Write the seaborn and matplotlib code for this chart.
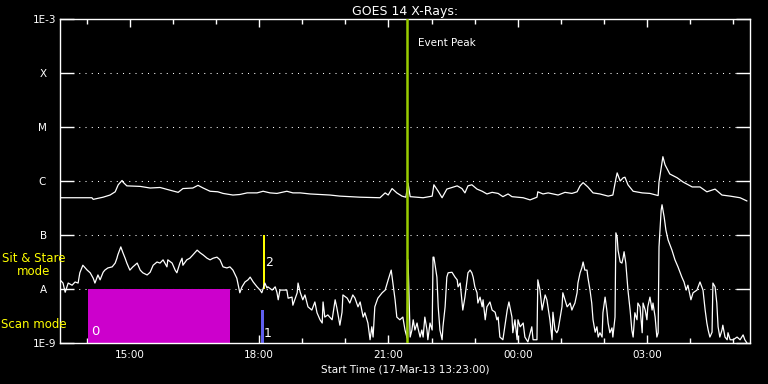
import numpy as np
import pandas as pd
import seaborn as sns
import matplotlib.pyplot as plt
import matplotlib.dates as mdates

# GOES 14 X-ray flux (hours after start, log10 W/m^2)
start = pd.Timestamp("2013-03-17 13:23:00")
span_hours = 16

long_hours = [0.00, 0.74, 0.77, 1.00, 1.16, 1.28, 1.35, 1.44, 1.46, 1.55, 1.86, 2.09, 2.32, 2.55,
              2.74, 2.85, 3.08, 3.20, 3.32, 3.48, 3.66, 3.78, 4.01, 4.17, 4.34, 4.57, 4.71, 4.87,
              5.03, 5.26, 5.40, 5.57, 5.80, 6.26, 6.49, 6.96, 7.42, 7.54, 7.61, 7.70, 7.81, 7.93,
              8.02, 8.07, 8.12, 8.42, 8.63, 8.67, 8.77, 8.86, 8.97, 9.09, 9.21, 9.32, 9.39, 9.46,
              9.55, 9.67, 9.79, 9.90, 10.02, 10.16, 10.27, 10.39, 10.48, 10.74, 10.90, 11.06,
              11.08, 11.20, 11.32, 11.55, 11.71, 11.87, 11.99, 12.06, 12.13, 12.24, 12.36, 12.52,
              12.71, 12.82, 12.89, 12.92, 12.99, 13.06, 13.10, 13.17, 13.29, 13.50, 13.68, 13.87,
              13.89, 13.98, 14.03, 14.14, 14.31, 14.45, 14.66, 14.84, 15.00, 15.19, 15.35, 15.54,
              15.77, 15.93]
long_logflux = [-6.31, -6.31, -6.34, -6.30, -6.26, -6.20, -6.07, -5.99, -6.02, -6.09, -6.10, -6.13,
                -6.12, -6.17, -6.21, -6.14, -6.13, -6.08, -6.13, -6.19, -6.20, -6.23, -6.26, -6.25,
                -6.22, -6.22, -6.19, -6.22, -6.23, -6.19, -6.22, -6.22, -6.24, -6.26, -6.28, -6.30,
                -6.31, -6.22, -6.26, -6.14, -6.22, -6.28, -6.30, -6.04, -6.29, -6.31, -6.28, -6.07,
                -6.19, -6.31, -6.15, -6.12, -6.09, -6.14, -6.22, -6.09, -6.07, -6.15, -6.19, -6.24,
                -6.21, -6.23, -6.29, -6.24, -6.29, -6.31, -6.35, -6.30, -6.20, -6.24, -6.22, -6.26,
                -6.21, -6.23, -6.20, -6.09, -6.03, -6.11, -6.22, -6.24, -6.28, -6.26, -5.96, -5.85,
                -6.00, -5.94, -5.93, -6.07, -6.19, -6.22, -6.23, -6.27, -6.02, -5.55, -5.70, -5.87,
                -5.94, -6.02, -6.11, -6.11, -6.20, -6.15, -6.26, -6.28, -6.31, -6.37]

short_hours = [0.00, 0.07, 0.12, 0.19, 0.28, 0.35, 0.42, 0.46, 0.53, 0.63, 0.70, 0.77, 0.81, 0.88,
               0.93, 1.00, 1.04, 1.11, 1.21, 1.28, 1.32, 1.34, 1.41, 1.46, 1.51, 1.55, 1.62, 1.69,
               1.79, 1.86, 1.92, 2.02, 2.09, 2.16, 2.25, 2.32, 2.39, 2.48, 2.50, 2.60, 2.67, 2.71,
               2.78, 2.83, 2.85, 2.94, 3.01, 3.08, 3.18, 3.25, 3.32, 3.41, 3.48, 3.55, 3.64, 3.71,
               3.78, 3.87, 3.94, 4.01, 4.10, 4.17, 4.22, 4.29, 4.36, 4.41, 4.48, 4.57, 4.64, 4.68,
               4.75, 4.80, 4.82, 4.92, 4.99, 5.03, 5.06, 5.10, 5.17, 5.26, 5.29, 5.38, 5.40, 5.50,
               5.52, 5.57, 5.63, 5.68, 5.75, 5.84, 5.91, 5.96, 6.03, 6.08, 6.10, 6.14, 6.21, 6.31,
               6.38, 6.42, 6.49, 6.54, 6.56, 6.66, 6.72, 6.79, 6.84, 6.91, 6.96, 7.03, 7.07, 7.14,
               7.19, 7.23, 7.26, 7.30, 7.37, 7.47, 7.54, 7.61, 7.68, 7.72, 7.77, 7.81, 7.88, 7.95,
               8.00, 8.05, 8.07, 8.12, 8.16, 8.19, 8.23, 8.28, 8.30, 8.35, 8.39, 8.42, 8.46, 8.51,
               8.53, 8.58, 8.63, 8.65, 8.67, 8.74, 8.77, 8.81, 8.86, 8.88, 8.93, 8.97, 9.00, 9.09,
               9.16, 9.21, 9.23, 9.28, 9.34, 9.39, 9.46, 9.51, 9.55, 9.58, 9.62, 9.67, 9.69, 9.74,
               9.79, 9.81, 9.86, 9.90, 9.97, 10.02, 10.09, 10.13, 10.16, 10.20, 10.27, 10.37, 10.41,
               10.48, 10.50, 10.55, 10.60, 10.62, 10.67, 10.74, 10.78, 10.85, 10.94, 10.97, 11.06,
               11.08, 11.13, 11.18, 11.25, 11.29, 11.36, 11.41, 11.43, 11.48, 11.52, 11.55, 11.59,
               11.64, 11.66, 11.71, 11.76, 11.83, 11.87, 11.90, 11.94, 11.99, 12.01, 12.06, 12.10,
               12.13, 12.17, 12.22, 12.24, 12.29, 12.33, 12.36, 12.41, 12.45, 12.48, 12.52, 12.57,
               12.59, 12.64, 12.68, 12.71, 12.75, 12.80, 12.82, 12.87, 12.89, 12.92, 12.94, 12.99,
               13.03, 13.06, 13.08, 13.12, 13.17, 13.22, 13.26, 13.29, 13.33, 13.38, 13.40, 13.45,
               13.50, 13.52, 13.57, 13.61, 13.63, 13.68, 13.73, 13.75, 13.80, 13.84, 13.87, 13.89,
               13.94, 13.96, 14.01, 14.05, 14.10, 14.19, 14.26, 14.33, 14.42, 14.47, 14.52, 14.56,
               14.63, 14.68, 14.77, 14.84, 14.91, 14.96, 15.00, 15.03, 15.07, 15.12, 15.14, 15.19,
               15.23, 15.26, 15.30, 15.35, 15.37, 15.42, 15.47, 15.49, 15.54, 15.61, 15.70, 15.77,
               15.84, 15.88, 15.93]
short_logflux = [-7.83, -7.89, -8.06, -7.89, -7.93, -7.87, -7.89, -7.70, -7.56, -7.65, -7.70, -7.80,
                 -7.89, -7.74, -7.83, -7.69, -7.65, -7.61, -7.59, -7.52, -7.43, -7.37, -7.22, -7.33,
                 -7.43, -7.52, -7.65, -7.59, -7.52, -7.65, -7.70, -7.74, -7.69, -7.56, -7.50, -7.52,
                 -7.46, -7.59, -7.46, -7.52, -7.65, -7.70, -7.52, -7.43, -7.56, -7.46, -7.43, -7.37,
                 -7.28, -7.33, -7.37, -7.43, -7.46, -7.43, -7.41, -7.46, -7.59, -7.61, -7.59, -7.65,
                 -7.80, -8.07, -7.96, -7.87, -7.83, -7.78, -7.87, -7.96, -8.02, -8.07, -7.89, -7.98,
                 -7.96, -8.02, -7.96, -8.06, -8.20, -8.02, -8.02, -8.02, -8.17, -8.15, -8.30, -8.07,
                 -7.89, -8.06, -8.20, -8.11, -8.33, -8.39, -8.24, -8.44, -8.57, -8.63, -8.24, -8.52,
                 -8.48, -8.57, -8.20, -8.35, -8.67, -8.43, -8.11, -8.17, -8.26, -8.11, -8.17, -8.33,
                 -8.24, -8.52, -8.44, -8.63, -8.94, -8.70, -8.89, -8.33, -8.17, -8.07, -8.02, -7.83,
                 -7.65, -7.89, -8.20, -8.52, -8.57, -8.52, -8.76, -8.91, -7.46, -8.89, -8.76, -8.57,
                 -8.76, -8.63, -8.72, -8.89, -8.76, -8.89, -8.52, -8.76, -8.94, -8.63, -8.76, -7.41,
                 -7.41, -7.78, -8.33, -8.76, -8.94, -8.70, -8.33, -7.78, -7.70, -7.69, -7.78, -7.83,
                 -7.96, -7.89, -8.39, -8.15, -7.70, -7.65, -7.70, -7.78, -7.96, -8.07, -8.26, -8.15,
                 -8.33, -8.20, -8.57, -8.33, -8.24, -8.39, -8.43, -8.57, -8.52, -8.89, -8.94, -8.39,
                 -8.24, -8.52, -8.81, -8.57, -8.94, -8.57, -8.70, -8.63, -8.89, -8.98, -8.70, -8.94,
                 -8.94, -7.83, -8.02, -8.39, -8.11, -8.20, -8.57, -8.94, -8.43, -8.76, -8.81, -8.76,
                 -8.57, -8.33, -8.07, -8.20, -8.33, -8.26, -8.39, -8.33, -8.26, -8.07, -7.89, -7.70,
                 -7.61, -7.50, -7.65, -7.65, -7.78, -8.02, -8.26, -8.57, -8.80, -8.70, -8.89, -8.81,
                 -8.89, -8.44, -8.15, -8.39, -8.63, -8.81, -8.72, -8.89, -8.52, -6.96, -7.04, -7.28,
                 -7.50, -7.52, -7.41, -7.31, -7.52, -8.02, -8.39, -8.76, -8.89, -8.44, -8.57, -8.26,
                 -8.33, -8.81, -8.26, -8.39, -8.57, -8.33, -8.15, -8.39, -8.26, -8.52, -8.89, -8.81,
                 -7.22, -6.54, -6.44, -6.67, -6.91, -7.09, -7.28, -7.46, -7.59, -7.78, -7.87, -8.02,
                 -7.93, -8.20, -8.07, -8.02, -7.87, -8.02, -8.39, -8.63, -8.76, -8.89, -8.80, -7.89,
                 -7.96, -8.26, -8.70, -8.89, -8.76, -8.67, -8.89, -8.94, -8.81, -8.94, -8.94, -8.89,
                 -8.94, -8.85, -8.94, -9.00]

level_values = [1e-9, 1e-8, 1e-7, 1e-6, 1e-5, 1e-4, 1e-3]
level_labels = ["1E-9", "A   ", "B   ", "C   ", "M   ", "X   ", "1E-3"]

# observing modes: 0 and 1 = scan, 2 = sit & stare
mode_names = ["0", "1", "2"]
mode_start_h = [0.65, 4.66, 4.71]
mode_end_h = [3.94, 4.72, 4.75]
mode_low = [1e-9, 1e-9, 1e-8]
mode_high = [1e-8, 4e-9, 1e-7]
mode_colors = ["#cc00cc", "#5f5fef", "#ffff00"]

event_peak_h = 8.05

sns.set_style("dark", {"axes.facecolor": "black", "figure.facecolor": "black",
                       "axes.edgecolor": "white", "text.color": "white",
                       "axes.labelcolor": "white", "xtick.color": "white",
                       "ytick.color": "white", "axes.grid": False})
plt.rcParams["font.family"] = ["DejaVu Sans"]

fig = plt.figure(figsize=(7.68, 3.84), dpi=100)
fig.patch.set_facecolor("black")
ax = fig.add_axes([60 / 768, 1 - 343 / 384, 690 / 768, 324 / 384])
ax.set_facecolor("black")

long_df = pd.DataFrame({"time": start + pd.to_timedelta(long_hours, unit="h"),
                        "flux": 10 ** np.array(long_logflux)})
short_df = pd.DataFrame({"time": start + pd.to_timedelta(short_hours, unit="h"),
                         "flux": 10 ** np.array(short_logflux)})

ax.set_yscale("log")

for lv in level_values[1:-1]:
    ax.axhline(lv, color="white", lw=0.75, ls=(0, (1, 5)), zorder=1)

for name, t0, t1, lo, hi, col in zip(mode_names, mode_start_h, mode_end_h,
                                     mode_low, mode_high, mode_colors):
    ts = [start + pd.Timedelta(hours=t0), start + pd.Timedelta(hours=t1)]
    ax.fill_between(ts, lo, hi, color=col, lw=0, zorder=2)

sns.lineplot(data=long_df, x="time", y="flux", color="white", lw=0.9, ax=ax,
             estimator=None, zorder=3)
sns.lineplot(data=short_df, x="time", y="flux", color="white", lw=0.9, ax=ax,
             estimator=None, zorder=3)

ev = start + pd.Timedelta(hours=event_peak_h)
ax.axvline(ev, color="#99cc00", lw=1.8, zorder=4)
ax.annotate("Event Peak", xy=(ev, 1), xycoords=("data", "axes fraction"),
            xytext=(8, -17.5), textcoords="offset points", ha="left", va="center",
            color="white", fontsize=7.5)

# mode numbers
t = [start + pd.Timedelta(hours=h) for h in mode_start_h]
te = [start + pd.Timedelta(hours=h) for h in mode_end_h]
ax.annotate(mode_names[0], xy=(t[0], mode_low[0]), xytext=(2.5, 8), textcoords="offset points",
            ha="left", va="center", color="white", fontsize=9.5)
ax.annotate(mode_names[1], xy=(te[1], mode_low[1]), xytext=(0, 7), textcoords="offset points",
            ha="left", va="center", color="white", fontsize=9)
ax.annotate(mode_names[2], xy=(te[2], mode_high[2]), xytext=(0.5, -20), textcoords="offset points",
            ha="left", va="center", color="white", fontsize=9)

ax.set_ylim(1e-9, 1e-3)
ax.set_xlim(start, start + pd.Timedelta(hours=span_hours))
ax.set_yticks(level_values)
ax.set_yticklabels(level_labels)
ax.yaxis.set_minor_locator(plt.NullLocator())
ax.xaxis.set_major_locator(mdates.HourLocator(byhour=range(0, 24, 3)))
ax.xaxis.set_minor_locator(mdates.HourLocator())
ax.xaxis.set_major_formatter(mdates.DateFormatter("%H:%M"))

ax.tick_params(axis="y", which="major", direction="in", length=10, width=1,
               left=True, right=True, labelsize=7.5, pad=2.5, colors="white")
ax.tick_params(axis="x", which="major", direction="in", length=6, width=1,
               top=True, bottom=True, labelsize=7.5, pad=5, colors="white")
ax.tick_params(axis="x", which="minor", direction="in", length=3.5, width=1,
               top=True, bottom=True, colors="white")
for sp in ax.spines.values():
    sp.set_color("white")
    sp.set_linewidth(1)

ax.set_title("GOES 14 X-Rays:", color="white", fontsize=9, pad=3)
ax.set_xlabel("Start Time (17-Mar-13 13:23:00)", color="white", fontsize=7.5, labelpad=3)
ax.set_ylabel("")

fig.text(34 / 768, 1 - 265 / 384, "Sit & Stare\nmode", color="#ffff00", fontsize=8.5,
         ha="center", va="center", linespacing=1.0)
fig.text(34 / 768, 1 - 324 / 384, "Scan mode", color="#ffff00", fontsize=8.5,
         ha="center", va="center")

fig.savefig("out.png", dpi=100, facecolor="black")
